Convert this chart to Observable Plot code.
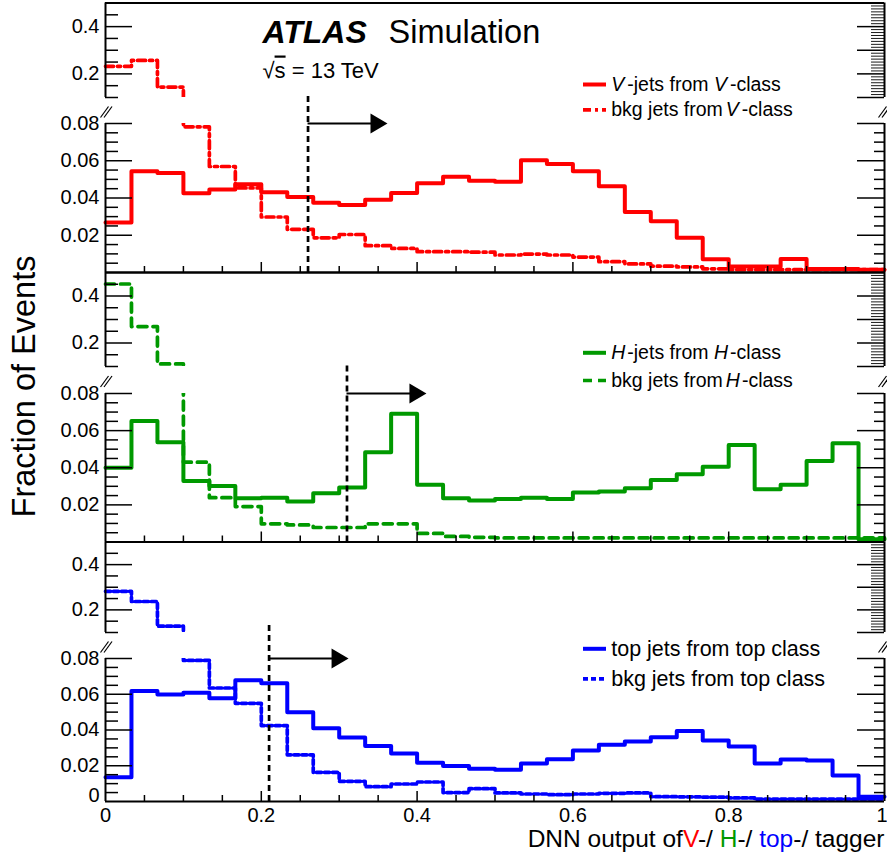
<!DOCTYPE html>
<html>
<head>
<meta charset="utf-8">
<script src="https://cdn.jsdelivr.net/npm/d3@7"></script>
<script src="https://cdn.jsdelivr.net/npm/@observablehq/plot@0.6"></script>
<style>
  html, body { margin: 0; padding: 0; background: #fff; }
  #chart { position: relative; width: 887px; height: 858px; }
  #chart svg { position: absolute; left: 0; top: 0; }
</style>
</head>
<body>
<div id="chart"></div>
<script>
// ---------------- data ----------------
const binLow = d3.range(30).map(i => i / 30); // lower edges of the 30 bins on [0,1]

const vJets  = [0.0268,0.0543,0.0534,0.0426,0.0445,0.0474,0.0431,0.0406,0.0374,0.0363,0.0390,0.0427,0.0479,0.0514,0.0493,0.0487,0.0603,0.0583,0.0544,0.0463,0.0325,0.0275,0.0186,0.0071,0.0032,0.0032,0.0072,0.0019,0.0019,0.0015];
const vBkg   = [0.232,0.257,0.144,0.0782,0.0569,0.0454,0.0298,0.0232,0.0186,0.0204,0.0144,0.0129,0.0112,0.0112,0.0109,0.0094,0.0099,0.0094,0.0083,0.0058,0.0046,0.0034,0.0030,0.0020,0.0015,0.0015,0.0015,0.0015,0.0015,0.0015];
const hJets  = [0.0400,0.0652,0.0537,0.0329,0.0302,0.0236,0.0239,0.0218,0.0263,0.0293,0.0483,0.0691,0.0308,0.0236,0.0223,0.0232,0.0239,0.0232,0.0266,0.0272,0.0290,0.0334,0.0365,0.0406,0.0523,0.0284,0.0308,0.0437,0.0532,0.0015];
const hBkg   = [0.451,0.270,0.111,0.0430,0.0239,0.0191,0.0098,0.0092,0.0078,0.0078,0.0098,0.0098,0.0046,0.0030,0.0025,0.0022,0.0022,0.0022,0.0022,0.0022,0.0022,0.0022,0.0022,0.0022,0.0022,0.0022,0.0022,0.0022,0.0022,0.0022];
const topJets= [0.0135,0.0618,0.0599,0.0608,0.0577,0.0679,0.0661,0.0499,0.0410,0.0358,0.0310,0.0269,0.0217,0.0198,0.0183,0.0178,0.0213,0.0237,0.0285,0.0317,0.0335,0.0360,0.0395,0.0341,0.0308,0.0213,0.0235,0.0230,0.0146,0.0027];
const topBkg = [0.282,0.237,0.128,0.0789,0.0635,0.0549,0.0425,0.0261,0.0163,0.0113,0.0083,0.0098,0.0109,0.0050,0.0072,0.0048,0.0042,0.0038,0.0042,0.0046,0.0048,0.0027,0.0026,0.0024,0.0020,0.0013,0.0013,0.0013,0.0013,0.0013];

const cutValues = [0.26, 0.31, 0.21];     // tagger working points (dotted lines)
const cutTops   = [0.121, 0.118, 0.144];  // where the dotted lines start
const arrowLen  = 0.102;

const xTickValues = [0, 0.2, 0.4, 0.6, 0.8, 1];
const xTickLabels = ["0", "0.2", "0.4", "0.6", "0.8", "1"];
const yUpperLabels = [0.2, 0.4];
const yLowerLabels = [0.02, 0.04, 0.06, 0.08];

const legendLabels = [
  ["V-jets from V-class", "bkg jets from V-class"],
  ["H-jets from H-class", "bkg jets from H-class"],
  ["top jets from top class", "bkg jets from top class"]
];
const xTitle = "DNN output ofV-/ H-/ top-/ tagger";
const yTitle = "Fraction of Events";

// ---------------- style / layout ----------------
const FONT = "'Liberation Sans', Arial, Helvetica, sans-serif";
const RED = "#ff0000", GREEN = "#009900", BLUE = "#0000ff";

const LAYOUT = [
  {top: 2.5,   upBottom: 97,  lowTop: 123, bottom: 272,   rows: [84, 109.3],    legendSize: 19.5},
  {top: 272,   upBottom: 366, lowTop: 393, bottom: 541.5, rows: [352.3, 380],   legendSize: 19.5},
  {top: 541.5, upBottom: 632, lowTop: 658, bottom: 801,   rows: [648.3, 678.3], legendSize: 21.5}
];

const PANELS = [
  {sig: vJets,   bkg: vBkg,   color: RED,   dash: "8,4,3,4"},
  {sig: hJets,   bkg: hBkg,   color: GREEN, dash: "9,6"},
  {sig: topJets, bkg: topBkg, color: BLUE,  dash: "5,3"}
];

// tick grids (axis furniture)
const rnd = v => +v.toFixed(4);
const leftLowMinor  = d3.range(1, 16).map(i => rnd(i * 0.005)).filter(v => !yLowerLabels.includes(v));
const leftUpMajor   = yUpperLabels;
const leftUpMinor   = [0.1, 0.15, 0.25, 0.3, 0.35, 0.45];
const rightUpMajor  = [0.1, 0.2, 0.3, 0.4];
const rightUpMinor  = d3.range(1, 32).map(i => rnd(0.1 + i * 0.0125)).filter(v => v < 0.5 && !rightUpMajor.includes(v));
const xMinor        = d3.range(1, 20).map(i => rnd(i * 0.05)).filter(v => !xTickValues.includes(v));
const xMajorInner   = [0.2, 0.4, 0.6, 0.8];

const RICH = {
  "V-jets from V-class": [["V", {italic: 1}], ["-jets from ", {dx: 3}], ["V", {italic: 1}], ["-class", {dx: 3}]],
  "bkg jets from V-class": [["bkg jets from"], ["V", {italic: 1, dx: 3}], ["-class", {dx: 3}]],
  "H-jets from H-class": [["H", {italic: 1}], ["-jets from ", {dx: 2}], ["H", {italic: 1}], ["-class", {dx: 2}]],
  "bkg jets from H-class": [["bkg jets from"], ["H", {italic: 1, dx: 3}], ["-class", {dx: 2}]],
  "DNN output ofV-/ H-/ top-/ tagger": [["DNN output of"], ["V", {fill: RED}], ["-/ "], ["H", {fill: GREEN}], ["-/ "], ["top", {fill: BLUE}], ["-/ tagger"]],
  "√s = 13 TeV": [["√"], ["s", {over: 1}], [" = 13 TeV"]]
};

function richify(svg) {
  d3.select(svg).selectAll("text").each(function () {
    const spec = RICH[this.textContent];
    if (!spec) return;
    const t = d3.select(this);
    t.selectAll("*").remove();
    t.text(null);
    for (const [s, o = {}] of spec) {
      const ts = t.append("tspan").text(s);
      if (o.italic) ts.attr("font-style", "italic");
      if (o.fill) ts.attr("fill", o.fill);
      if (o.dx) ts.attr("dx", o.dx);
      if (o.over) ts.style("text-decoration", "overline");
    }
  });
}

const triRight = {
  draw(ctx, size) {
    const r = Math.sqrt(size / Math.PI);
    ctx.moveTo(0, 0);
    ctx.lineTo(-1.7 * r, -r);
    ctx.lineTo(-1.7 * r, r);
    ctx.closePath();
  }
};

function panel(p, k) {
  const L = LAYOUT[k];
  const yDomain = [0, 0.08, 0.1, 0.5];
  const yRange = [L.bottom, L.lowTop, L.upBottom, L.top];
  const Y = d3.scaleLinear().domain(yRange).range(yDomain);   // pixel -> value (for annotations)
  const X = d3.scaleLinear().domain([105, 884]).range([0, 1]);
  const pts = arr => binLow.map((x, i) => ({x, y: arr[i]})).concat([{x: 1, y: arr[arr.length - 1]}]);
  const mid = (L.upBottom + L.lowTop) / 2;
  const breaks = [];
  for (const k2 of [0, 1]) {
    breaks.push({x1: X(100 + 3.5 * k2), y1: Y(mid + 7), x2: X(108 + 3.5 * k2), y2: Y(mid - 4)});
    breaks.push({x1: X(878 + 3.5 * k2), y1: Y(mid + 7), x2: X(886 + 3.5 * k2), y2: Y(mid - 4)});
  }
  const tx = {fontFamily: FONT, fill: "black"};
  const marks = [
    // histograms
    Plot.line(pts(p.bkg), {x: "x", y: "y", curve: "step-after", stroke: p.color, strokeWidth: 3.7, strokeDasharray: p.dash}),
    Plot.line(pts(p.sig), {x: "x", y: "y", curve: "step-after", stroke: p.color, strokeWidth: 4}),
    // axis break gap
    Plot.rect([0], {x1: 0, x2: 1, y1: 0.08, y2: 0.1, fill: "white"}),
    // frame
    Plot.ruleX([0, 1], {y1: 0, y2: 0.08, strokeWidth: 2}),
    Plot.ruleX([0, 1], {y1: 0.1, y2: 0.5, strokeWidth: 2}),
    Plot.ruleY([0, 0.5], {x1: 0, x2: 1, strokeWidth: 2}),
    // left ticks
    Plot.ruleY(yLowerLabels, {x1: 0, x2: X(132), strokeWidth: 1.5}),
    Plot.ruleY(leftLowMinor, {x1: 0, x2: X(118), strokeWidth: 1.5}),
    Plot.ruleY(leftUpMajor, {x1: 0, x2: X(132), strokeWidth: 1.5}),
    Plot.ruleY(leftUpMinor, {x1: 0, x2: X(118), strokeWidth: 1.5}),
    // right ticks
    Plot.ruleY(yLowerLabels, {x1: X(857), x2: 1, strokeWidth: 1.5}),
    Plot.ruleY(leftLowMinor, {x1: X(874), x2: 1, strokeWidth: 1.5}),
    Plot.ruleY(rightUpMajor, {x1: X(857), x2: 1, strokeWidth: 1.5}),
    Plot.ruleY(rightUpMinor, {x1: X(871), x2: 1, strokeWidth: 0.9}),
    // x ticks (pointing up from the panel bottom)
    Plot.ruleX(xMajorInner, {y1: 0, y2: Y(L.bottom - 10), strokeWidth: 1.5}),
    Plot.ruleX(xMinor, {y1: 0, y2: Y(L.bottom - 6), strokeWidth: 1.5}),
    // break marks
    Plot.link(breaks, {x1: "x1", y1: "y1", x2: "x2", y2: "y2", stroke: "black", strokeWidth: 1.2}),
    // y tick labels
    Plot.text(yUpperLabels, {...tx, x: 0, y: d => d, text: d => String(d), textAnchor: "end", dx: -6, fontSize: 20}),
    Plot.text(yLowerLabels, {...tx, x: 0, y: d => d, text: d => String(d), textAnchor: "end", dx: -6, fontSize: 20}),
    // working point and arrow
    Plot.ruleX([cutValues[k]], {y1: 0, y2: cutTops[k], stroke: "black", strokeWidth: 2.7, strokeDasharray: "6,4"}),
    Plot.ruleY([0.08], {x1: cutValues[k], x2: cutValues[k] + arrowLen - 0.01, stroke: "black", strokeWidth: 2}),
    Plot.dot([{x: cutValues[k] + arrowLen, y: 0.08}], {x: "x", y: "y", r: 10, symbol: triRight, fill: "black", stroke: "none"}),
    // legend
    Plot.ruleY([Y(L.rows[0])], {x1: X(583), x2: X(606), stroke: p.color, strokeWidth: 4}),
    Plot.ruleY([Y(L.rows[1])], {x1: X(583), x2: X(606), stroke: p.color, strokeWidth: 3.7, strokeDasharray: p.dash}),
    Plot.text([legendLabels[k][0]], {...tx, x: X(610.7), y: Y(L.rows[0]), text: d => d, textAnchor: "start", fontSize: L.legendSize}),
    Plot.text([legendLabels[k][1]], {...tx, x: X(610.7), y: Y(L.rows[1]), text: d => d, textAnchor: "start", fontSize: L.legendSize})
  ];
  if (k === 0) {
    marks.push(
      Plot.text(["ATLAS"], {...tx, x: X(262), y: Y(42 - 0.32 * 32), text: d => d, textAnchor: "start", fontSize: 32, fontWeight: "bold", fontStyle: "italic"}),
      Plot.text(["Simulation"], {...tx, x: X(388), y: Y(42 - 0.32 * 32), text: d => d, textAnchor: "start", fontSize: 32.5}),
      Plot.text(["√s = 13 TeV"], {...tx, x: X(262), y: Y(77 - 0.32 * 22), text: d => d, textAnchor: "start", fontSize: 22})
    );
  }
  if (k === 1) {
    marks.push(Plot.text([yTitle], {...tx, x: X(24.5), y: Y(386), text: d => d, rotate: -90, fontSize: 32.5}));
  }
  if (k === 2) {
    const inner = xTickValues.slice(0, -1);
    marks.push(
      Plot.text([0], {...tx, x: 0, y: 0, text: () => "0", textAnchor: "end", dx: -6, dy: -6, fontSize: 20}),
      Plot.text(inner, {...tx, x: d => d, y: Y(815), text: (d, i) => xTickLabels[i], fontSize: 20}),
      Plot.text([1], {...tx, x: d => d, y: Y(815), text: () => xTickLabels[xTickLabels.length - 1], textAnchor: "end", dx: 3, fontSize: 20}),
      Plot.text([xTitle], {...tx, x: 1, y: Y(846 - 0.32 * 24.5), text: d => d, textAnchor: "end", fontSize: 24.5})
    );
  }
  const svg = Plot.plot({
    width: 887, height: 858,
    marginLeft: 105, marginRight: 3, marginTop: 0, marginBottom: 0,
    style: {background: "transparent", fontFamily: FONT, overflow: "visible"},
    x: {type: "linear", domain: [0, 1], axis: null},
    y: {type: "linear", domain: yDomain, range: yRange, axis: null},
    marks
  });
  richify(svg);
  return svg;
}

const chart = document.getElementById("chart");
PANELS.forEach((p, k) => chart.appendChild(panel(p, k)));
</script>
</body>
</html>
